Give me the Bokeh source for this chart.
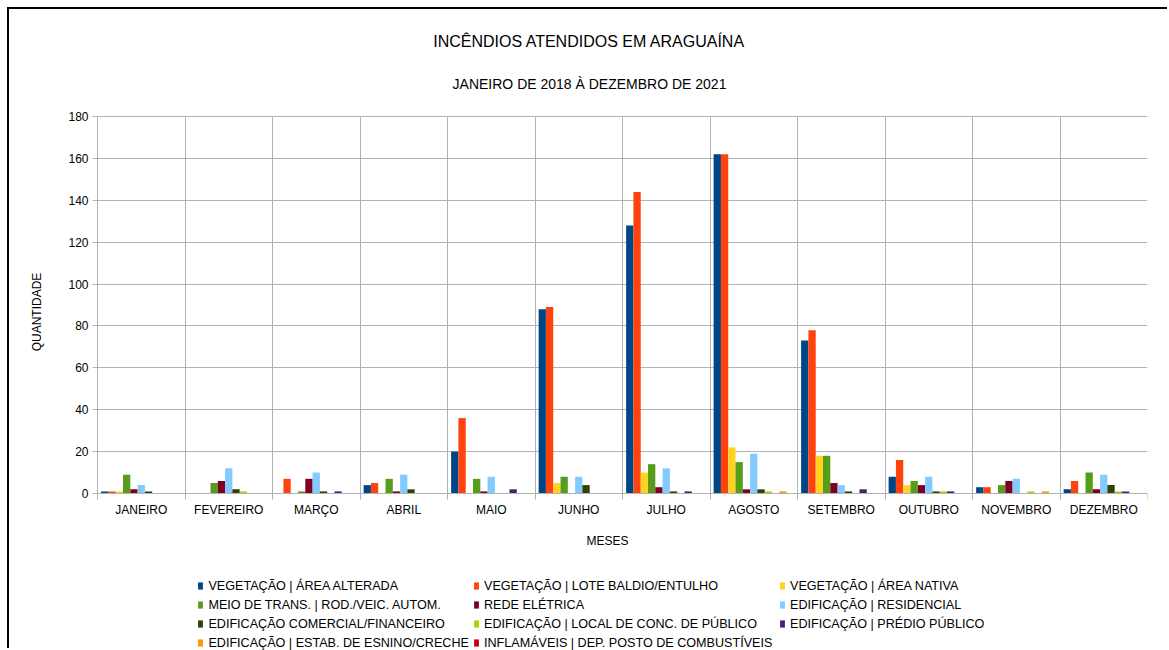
import math
from bokeh.plotting import figure
from bokeh.models import (Range1d, FixedTicker, LinearAxis, Grid, Legend, LegendItem,
                          Label, ColumnDataSource)
from bokeh.transform import dodge
from bokeh.embed import file_html
from bokeh.resources import INLINE

# ---------------- data ----------------
months = ["JANEIRO", "FEVEREIRO", "MARÇO", "ABRIL", "MAIO", "JUNHO",
          "JULHO", "AGOSTO", "SETEMBRO", "OUTUBRO", "NOVEMBRO", "DEZEMBRO"]

series_labels = [
    "VEGETAÇÃO | ÁREA ALTERADA",
    "VEGETAÇÃO | LOTE BALDIO/ENTULHO",
    "VEGETAÇÃO | ÁREA NATIVA",
    "MEIO DE TRANS. | ROD./VEIC. AUTOM.",
    "REDE ELÉTRICA",
    "EDIFICAÇÃO | RESIDENCIAL",
    "EDIFICAÇÃO COMERCIAL/FINANCEIRO",
    "EDIFICAÇÃO | LOCAL DE CONC. DE PÚBLICO",
    "EDIFICAÇÃO | PRÉDIO PÚBLICO",
    "EDIFICAÇÃO | ESTAB. DE ESNINO/CRECHE",
    "INFLAMÁVEIS | DEP. POSTO DE COMBUSTÍVEIS",
]

series_colors = ["#004586", "#ff420e", "#ffd320", "#579d1c", "#7e0021", "#83caff",
                 "#314004", "#aecf00", "#4b1f6f", "#ff950e", "#c5000b"]

veg_area_alterada   = [1, 0, 0, 4, 20, 88, 128, 162, 73, 8, 3, 2]
veg_lote_baldio     = [1, 0, 7, 5, 36, 89, 144, 162, 78, 16, 3, 6]
veg_area_nativa     = [1, 0, 0, 0, 0, 5, 10, 22, 18, 4, 0, 0]
meio_trans          = [9, 5, 1, 7, 7, 8, 14, 15, 18, 6, 4, 10]
rede_eletrica       = [2, 6, 7, 1, 1, 0, 3, 2, 5, 4, 6, 2]
edif_residencial    = [4, 12, 10, 9, 8, 8, 12, 19, 4, 8, 7, 9]
edif_comercial      = [1, 2, 1, 2, 0, 4, 1, 2, 1, 1, 0, 4]
edif_local_conc     = [0, 1, 0, 0, 0, 0, 0, 1, 0, 1, 1, 1]
edif_predio_publico = [0, 0, 1, 0, 2, 0, 1, 0, 2, 1, 0, 1]
edif_estab_ensino   = [0, 0, 0, 0, 0, 0, 0, 1, 0, 0, 1, 0]
inflamaveis         = [0, 0, 0, 0, 0, 0, 0, 0, 0, 0, 0, 0]

series_values = [veg_area_alterada, veg_lote_baldio, veg_area_nativa, meio_trans,
                 rede_eletrica, edif_residencial, edif_comercial, edif_local_conc,
                 edif_predio_publico, edif_estab_ensino, inflamaveis]

y_ticks = [0, 20, 40, 60, 80, 100, 120, 140, 160, 180]

title_text = "INCÊNDIOS ATENDIDOS EM ARAGUAÍNA"
subtitle_text = "JANEIRO DE 2018 À DEZEMBRO DE 2021"
y_title = "QUANTIDADE"
x_title = "MESES"

# ---------------- styling / layout ----------------
FONT = "Liberation Sans"
GRID = "#b3b3b3"
TXT = "#000000"

n_months = len(months)
n_series = len(series_values)
month_pos = [i + 0.5 for i in range(n_months)]
bar_w = 0.917 / n_series

Y_MAX = 180
CANVAS_W, CANVAS_H = 1160, 641     # canvas starts at page (9, 9)
ORIGIN = 9
PLOT_LEFT_PX = 88                  # canvas px from left edge to the value axis
PLOT_W_PX = 1050                   # px spanned by the twelve months
PLOT_TOP_PX = 107                  # canvas px from top to the 180 line
PLOT_H_PX = 377                    # px between 0 and 180
RIGHT_PAD = CANVAS_W - PLOT_LEFT_PX - PLOT_W_PX

px_per_month = PLOT_W_PX / n_months
px_per_unit = PLOT_H_PX / Y_MAX
x_start = -PLOT_LEFT_PX / px_per_month
y_end = Y_MAX + PLOT_TOP_PX / px_per_unit
y_start = -(CANVAS_H - PLOT_TOP_PX - PLOT_H_PX) / px_per_unit

p = figure(width=CANVAS_W, height=CANVAS_H, output_backend="svg", toolbar_location=None,
           x_range=Range1d(x_start, n_months), y_range=Range1d(y_start, y_end),
           x_axis_type=None, y_axis_type=None,
           min_border_left=0, min_border_right=RIGHT_PAD, min_border_top=0,
           min_border_bottom=0)
p.outline_line_color = None
p.background_fill_color = "white"
p.border_fill_color = "white"
p.styles = {"margin-left": "7px", "margin-top": "7px",
            "border-left": "2px solid #000000", "border-top": "2px solid #000000"}

# category axis at value 0
xaxis = LinearAxis(ticker=FixedTicker(ticks=month_pos, minor_ticks=list(range(n_months + 1))),
                   major_label_overrides={pos: m for pos, m in zip(month_pos, months)},
                   fixed_location=0, bounds=(0, n_months))
xaxis.axis_line_color = GRID
xaxis.major_tick_out = 0
xaxis.major_tick_in = 0
xaxis.minor_tick_out = 6
xaxis.minor_tick_in = 0
xaxis.minor_tick_line_color = GRID
xaxis.major_label_standoff = 3
xaxis.major_label_text_font = FONT
xaxis.major_label_text_font_size = "12px"
xaxis.major_label_text_color = TXT
p.add_layout(xaxis, "below")

# value axis at month position 0
yaxis = LinearAxis(ticker=FixedTicker(ticks=y_ticks, minor_ticks=[]),
                   fixed_location=0, bounds=(-3, Y_MAX))
yaxis.axis_line_color = GRID
yaxis.major_tick_out = 5
yaxis.major_tick_in = 0
yaxis.major_tick_line_color = GRID
yaxis.minor_tick_out = 0
yaxis.minor_tick_in = 0
yaxis.major_label_standoff = 4
yaxis.major_label_text_font = FONT
yaxis.major_label_text_font_size = "12px"
yaxis.major_label_text_color = TXT
p.add_layout(yaxis, "left")

p.add_layout(Grid(dimension=0, ticker=FixedTicker(ticks=list(range(n_months + 1))),
                  grid_line_color=GRID, bounds=(0, n_months), cross_bounds=(0, Y_MAX)))
p.add_layout(Grid(dimension=1, ticker=FixedTicker(ticks=y_ticks), grid_line_color=GRID,
                  bounds=(0, Y_MAX), cross_bounds=(0, n_months)))

# bars
data = {"x": month_pos}
for k, vals in enumerate(series_values):
    data[f"s{k}"] = vals
source = ColumnDataSource(data)

renderers = []
for k in range(n_series):
    off = (k - (n_series - 1) / 2) * bar_w
    r = p.vbar(x=dodge("x", off, range=p.x_range), top=f"s{k}", width=bar_w,
               source=source, fill_color=series_colors[k], line_color=None)
    renderers.append(r)

# texts (screen units relative to the frame's bottom-left corner)
frame_bottom_page = ORIGIN + CANVAS_H
def sx(page_x):
    return page_x - ORIGIN
def sy(page_y):
    return frame_bottom_page - page_y

p.add_layout(Label(x=sx(589), y=sy(41), x_units="screen", y_units="screen", text=title_text,
                   text_align="center", text_baseline="middle", text_font=FONT,
                   text_font_size="16px", text_color=TXT))
p.add_layout(Label(x=sx(589), y=sy(83.5), x_units="screen", y_units="screen",
                   text=subtitle_text, text_align="center", text_baseline="middle",
                   text_font=FONT, text_font_size="14px", text_color=TXT))
p.add_layout(Label(x=sx(607), y=sy(540), x_units="screen", y_units="screen", text=x_title,
                   text_align="center", text_baseline="middle", text_font=FONT,
                   text_font_size="12px", text_color=TXT))
p.add_layout(Label(x=sx(36.5), y=sy(311.5), x_units="screen", y_units="screen", text=y_title,
                   angle=math.pi / 2, text_align="center", text_baseline="middle",
                   text_font=FONT, text_font_size="12px", text_color=TXT))

# legend: three columns, filled row by row
col_x = [197.4, 473, 779]
row_h = 14
row_gap = 5
first_row_center = 585.5
for col in range(3):
    idx = list(range(col, n_series, 3))
    items = [LegendItem(label=series_labels[k], renderers=[renderers[k]]) for k in idx]
    H = len(idx) * row_h + (len(idx) - 1) * row_gap
    top_page = first_row_center - row_h / 2
    leg = Legend(items=items, location=(sx(col_x[col]), sy(top_page) - H),
                 orientation="vertical",
                 glyph_width=6, glyph_height=9, label_standoff=5, label_height=row_h,
                 spacing=row_gap, padding=0, margin=0, border_line_color=None,
                 background_fill_alpha=0, label_text_font=FONT,
                 label_text_font_size="12.6px", label_text_color=TXT)
    p.add_layout(leg)

open("out.html", "w").write(file_html(p, INLINE))
